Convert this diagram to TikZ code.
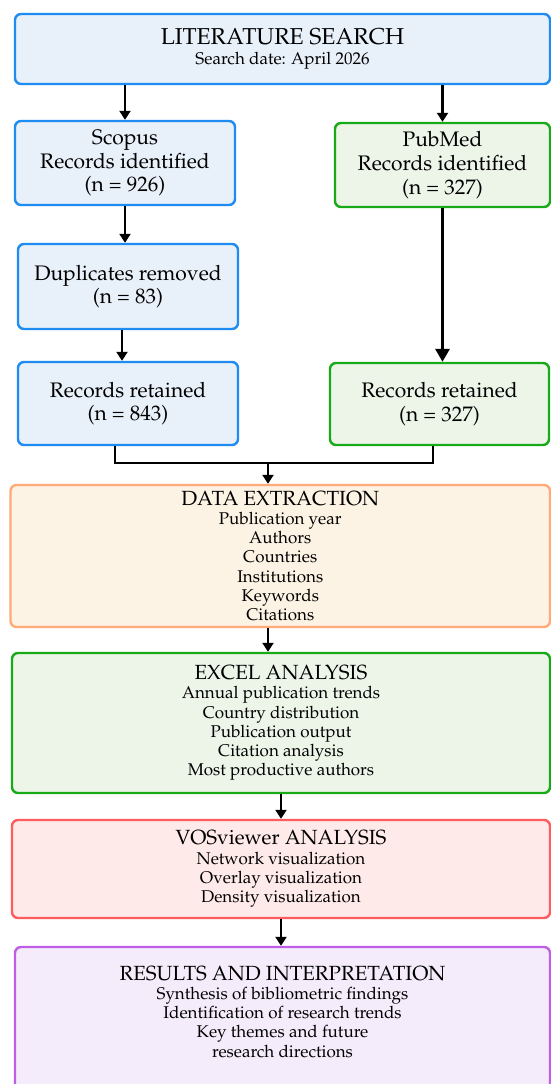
\documentclass[tikz,border=0pt]{standalone}
\usepackage[T1]{fontenc}
\usepackage{mathpazo}
\usetikzlibrary{arrows.meta, positioning, calc}
\definecolor{dbblue}{RGB}{30,140,240}
\definecolor{dbbluefill}{RGB}{232,240,250}
\definecolor{dbgreen}{RGB}{25,170,25}
\definecolor{dbgreenfill}{RGB}{237,244,232}
\definecolor{dborange}{RGB}{255,170,120}
\definecolor{dborangefill}{RGB}{253,243,228}
\definecolor{dbred}{RGB}{255,92,95}
\definecolor{dbredfill}{RGB}{255,234,234}
\definecolor{dbpurple}{RGB}{190,95,230}
\definecolor{dbpurplefill}{RGB}{244,236,250}
\newcommand{\recfont}{\fontsize{21}{23.7}\selectfont}
\newcommand{\itemsfont}{\fontsize{17}{19.3}\selectfont}
\newcommand{\stagefont}{\fontsize{20.5}{19.3}\selectfont}
\tikzset{
  flowbox/.style={draw, rounded corners=6pt, line width=2.4pt, align=center, inner sep=2pt},
  dbbox/.style={flowbox, draw=dbblue, fill=dbbluefill, font=\recfont},
  pmbox/.style={flowbox, draw=dbgreen, fill=dbgreenfill, font=\recfont},
  arr/.style={-{Triangle[length=9pt,width=11pt]}, line width=2.6pt},
  bigarr/.style={-{Triangle[length=13pt,width=14pt]}, line width=3pt},
}

\begin{document}
\begin{tikzpicture}[x=1pt, y=-1pt]
  \useasboundingbox (0,0) rectangle (551,1084);
  \fill[white] (0,0) rectangle (551,1084);
  \clip (0,0) rectangle (551,1084);

  % search and the two databases
  \node[flowbox, draw=dbblue, fill=dbbluefill, font=\fontsize{17}{20}\selectfont, minimum width=535pt, minimum height=70pt] (search) at (282.5,49) {{\fontsize{23}{20}\selectfont LITERATURE SEARCH}\\Search date: April 2026};
  \node[dbbox, minimum width=220pt, minimum height=84pt] (scopus) at (125,163) {Scopus\\Records identified\\(n = 926)};
  \node[dbbox, minimum width=220pt, minimum height=85pt] (dup) at (128,286.5) {Duplicates removed\\(n = 83)};
  \node[dbbox, minimum width=220pt, minimum height=83pt] (retL) at (128,403.5) {Records retained\\(n = 843)};
  \node[pmbox, minimum width=215pt, minimum height=84pt] (pubmed) at (442.5,165) {PubMed\\Records identified\\(n = 327)};
  \node[pmbox, minimum width=219pt, minimum height=82pt] (retR) at (439.5,404) {Records retained\\(n = 327)};
  \coordinate (join) at (268,463);

  % analysis stages
  \node[flowbox, draw=dborange, fill=dborangefill, font=\itemsfont, minimum width=539.5pt, minimum height=142pt] (data) at (280.25,556) {{\stagefont DATA EXTRACTION}\\Publication year\\Authors\\Countries\\Institutions\\Keywords\\Citations};
  \node[flowbox, draw=dbgreen, fill=dbgreenfill, font=\itemsfont, minimum width=538pt, minimum height=140pt] (excel) at (281,723) {{\stagefont EXCEL ANALYSIS}\\Annual publication trends\\Country distribution\\Publication output\\Citation analysis\\Most productive authors};
  \node[flowbox, draw=dbred, fill=dbredfill, font=\itemsfont, minimum width=538pt, minimum height=98pt] (vos) at (281,869) {{\stagefont VOSviewer ANALYSIS}\\Network visualization\\Overlay visualization\\Density visualization};
  \node[flowbox, draw=dbpurple, fill=dbpurplefill, font=\itemsfont, minimum width=535pt, minimum height=153pt, text depth=24pt] (results) at (282.5,1023.5) {{\stagefont RESULTS AND INTERPRETATION}\\Synthesis of bibliometric findings\\Identification of research trends\\Key themes and future\\research directions};

  \draw[arr] (search.south -| scopus.north) -- (scopus.north);
  \draw[arr] (search.south -| pubmed.north) -- (pubmed.north);
  \draw[arr] (scopus.south) -- (scopus.south |- dup.north);
  \draw[arr] ([xshift=-6pt]dup.south) -- ([xshift=-6pt]retL.north);
  \draw[bigarr] (pubmed.south) -- (pubmed.south |- retR.north);
  \draw[line width=2.6pt] ([xshift=-13pt]retL.south) |- (join) -| ([xshift=-6.5pt]retR.south);
  \draw[arr] (join) -- (join |- data.north);
  \draw[arr] (data.south -| join) -- (join |- excel.north);
  \draw[arr] (excel.south) -- (vos.north);
  \draw[arr] (vos.south) -- (vos.south |- results.north);
\end{tikzpicture}
\end{document}
